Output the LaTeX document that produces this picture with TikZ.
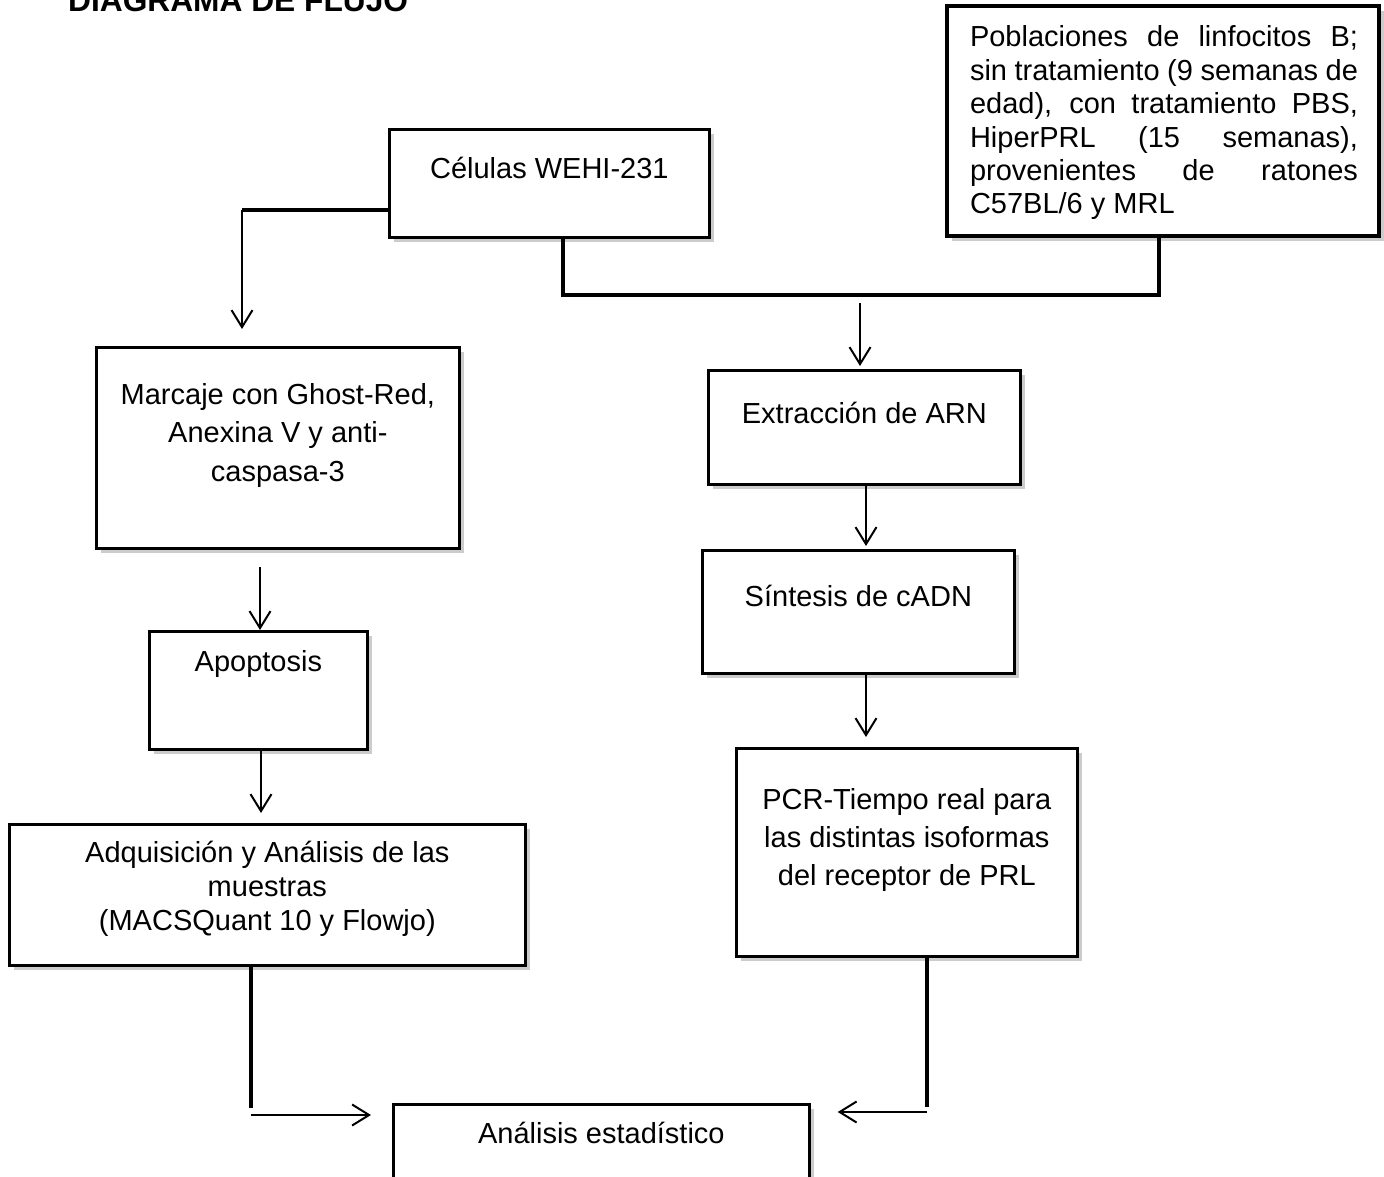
\documentclass[tikz,border=0pt]{standalone}
\usepackage{fontspec}
\setmainfont{Liberation Sans}
\usetikzlibrary{arrows.meta,shadows}
\newcommand{\boxtxt}[5]{\parbox[c][#2pt][t]{#1pt}{\centering\fontsize{29}{#3}\selectfont\rule{0pt}{#4pt}#5}}
\begin{document}
\begin{tikzpicture}[x=1pt,y=-1pt,
  box/.style={draw, line width=2.7pt, fill=white, inner sep=0pt, anchor=north west,
    drop shadow={shadow xshift=5pt, shadow yshift=-5pt, fill=black, opacity=0.2}},
  conn/.style={line width=4pt},
  arr/.style={line width=2pt, -{Straight Barb[length=17pt,width=21pt]}},
  font=\fontsize{29}{33.4}\selectfont]
\useasboundingbox (0,0) rectangle (1384,1177);

\node[anchor=base west, inner sep=0pt, font=\fontsize{31.7}{36}\selectfont\bfseries] (title) at (68,12) {DIAGRAMA DE FLUJO};

\node[box] (cel) at (388,128) {\boxtxt{320}{108}{33.4}{49}{Células WEHI-231}};
\node[box, line width=4pt] (pob) at (945,4) {\parbox[c][230pt][t]{432pt}{\fontsize{29}{33.4}\selectfont\leftskip=23pt\rule{0pt}{41pt}\makebox[388pt][s]{Poblaciones de linfocitos B;}\\\makebox[388pt][s]{sin tratamiento (9 semanas de}\\\makebox[388pt][s]{edad), con tratamiento PBS,}\\\makebox[388pt][s]{HiperPRL (15 semanas),}\\\makebox[388pt][s]{provenientes de ratones}\\C57BL/6 y MRL}};
\node[box] (marc) at (95,346) {\boxtxt{363}{201}{38.5}{57}{Marcaje con Ghost-Red,\\Anexina V y anti-\\caspasa-3}};
\node[box] (apop) at (148,630) {\boxtxt{218}{118}{33.4}{40}{Apoptosis}};
\node[box] (adq) at (8,823) {\boxtxt{516}{141}{34}{38}{Adquisición y Análisis de las\\muestras\\(MACSQuant 10 y Flowjo)}};
\node[box] (ext) at (707,369) {\boxtxt{312}{114}{33.4}{53}{Extracción de ARN}};
\node[box] (sin) at (701,549) {\boxtxt{312}{123}{33.4}{56}{Síntesis de cADN}};
\node[box] (pcr) at (735,747) {\boxtxt{341}{208}{38}{61}{PCR-Tiempo real para\\las distintas isoformas\\del receptor de PRL}};
\node[box] (ana) at (392,1103) {\boxtxt{416}{120}{33.4}{39}{Análisis estadístico}};

% Células -> Marcaje
\coordinate (c1) at (242,210);
\draw[conn] (cel.west |- c1) -- (c1);
\draw[arr, shorten >=17pt] (c1) -- (c1 |- marc.north);

% Células + Poblaciones -> Extracción
\coordinate (j1) at (563,295);
\coordinate (j2) at (1159,295);
\draw[conn] (cel.south -| j1) -- (j1) -- (j2) -- (pob.south -| j2);
\coordinate (m1) at (860,303);
\draw[arr, shorten >=3pt] (m1) -- (m1 |- ext.north);

% left column
\coordinate (a1) at (260,567);
\draw[arr] (a1) -- (a1 |- apop.north);
\coordinate (a2) at (261,750);
\draw[arr, shorten >=10pt] (apop.south -| a2) -- (a2 |- adq.north);

% right column
\coordinate (e1) at (866,483);
\draw[arr, shorten >=3pt] (ext.south -| e1) -- (e1 |- sin.north);
\draw[arr, shorten >=10pt] (sin.south -| e1) -- (e1 |- pcr.north);

% to Análisis
\coordinate (l1) at (251,1108);
\coordinate (l2) at (251,1115);
\draw[conn] (adq.south -| l1) -- (l1);
\draw[arr, shorten >=21pt] (l2) -- (l2 -| ana.west);
\coordinate (r1) at (927,1107);
\coordinate (r2) at (927,1112);
\draw[conn] (pcr.south -| r1) -- (r1);
\draw[arr, shorten >=27pt] (r2) -- (r2 -| ana.east);
\end{tikzpicture}
\end{document}
